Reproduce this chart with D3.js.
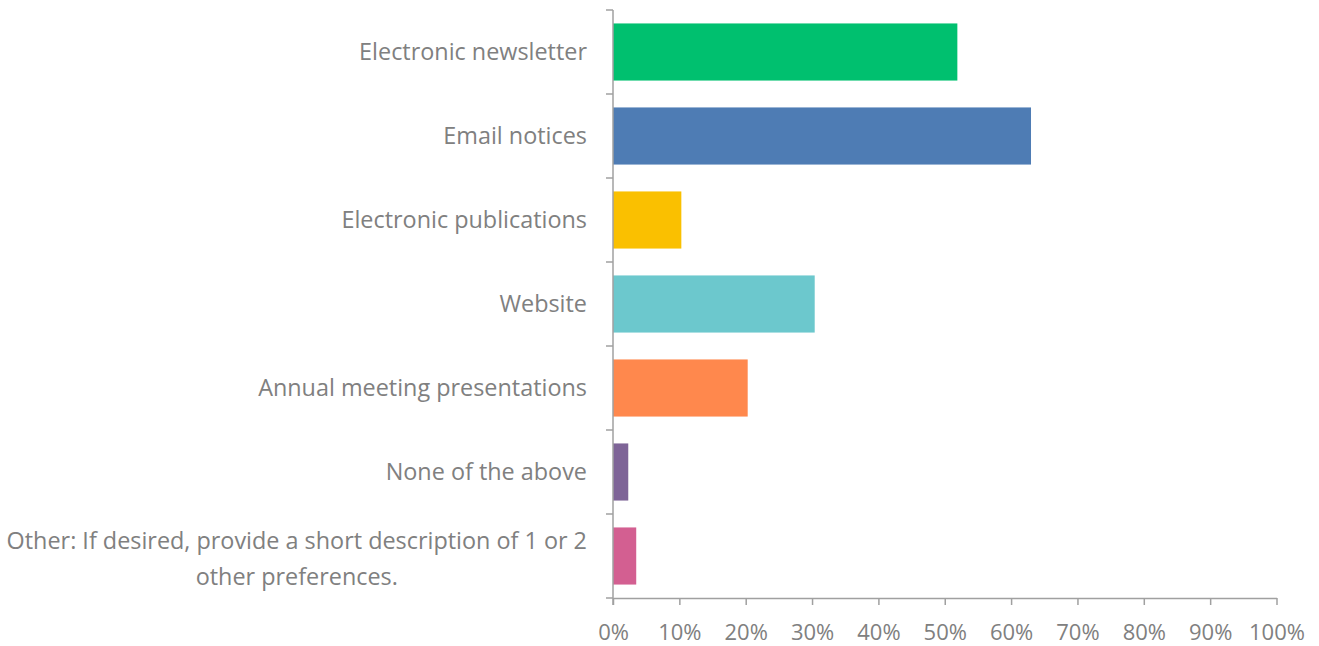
<!DOCTYPE html>
<html>
<head>
<meta charset="utf-8">
<script src="https://cdn.jsdelivr.net/npm/d3@7"></script>
<style>
  body { margin: 0; background: #fff; }
  text { font-family: "Open Sans", sans-serif; fill: #808080; }
</style>
</head>
<body>
<script>
const categories = [
  "Electronic newsletter",
  "Email notices",
  "Electronic publications",
  "Website",
  "Annual meeting presentations",
  "None of the above",
  "Other: If desired, provide a short description of 1 or 2|other preferences."
];
const values = [0.519, 0.630, 0.103, 0.304, 0.203, 0.023, 0.035];
const colors = ["#00c06f", "#4e7cb4", "#fac000", "#6cc8cd", "#ff884d", "#7e6497", "#d35f91"];
const xTicks = [0, 0.1, 0.2, 0.3, 0.4, 0.5, 0.6, 0.7, 0.8, 0.9, 1.0];

const width = 1319, height = 646;
const plotLeft = 613, plotRight = 1276.5, plotTop = 10, plotBottom = 598;

const svg = d3.select("body").append("svg")
  .attr("width", width)
  .attr("height", height);

const xScale = d3.scaleLinear().domain([0, 1]).range([plotLeft, plotRight]);
const yScale = d3.scaleBand().domain(categories).range([plotTop, plotBottom]).paddingInner(0.32).paddingOuter(0.16);

// bars
svg.selectAll("rect.bar")
  .data(categories)
  .enter()
  .append("rect")
  .attr("class", "bar")
  .attr("x", xScale(0))
  .attr("y", d => yScale(d))
  .attr("width", (d, i) => xScale(values[i]) - xScale(0))
  .attr("height", yScale.bandwidth())
  .attr("fill", (d, i) => colors[i]);

// x axis
const xAxis = d3.axisBottom(xScale)
  .tickValues(xTicks)
  .tickFormat(d3.format(".0%"))
  .tickSizeInner(7)
  .tickSizeOuter(0)
  .tickPadding(19);

const gx = svg.append("g")
  .attr("transform", `translate(0, ${plotBottom})`)
  .call(xAxis);
gx.selectAll("text").style("font-size", "22px").attr("fill", "#808080");

// y axis: ticks at category boundaries
const step = yScale.step();
const boundaries = d3.range(categories.length + 1).map(i => plotTop + i * step);

const gy = svg.append("g");
gy.append("line")
  .attr("x1", plotLeft).attr("x2", plotLeft)
  .attr("y1", plotTop).attr("y2", plotBottom + 7);
gy.selectAll("line.tick")
  .data(boundaries)
  .enter()
  .append("line")
  .attr("class", "tick")
  .attr("x1", plotLeft - 7).attr("x2", plotLeft)
  .attr("y1", d => d).attr("y2", d => d);
gy.selectAll("line").attr("stroke", "#a0a0a0").attr("stroke-width", 1.5);

gx.select(".domain").attr("stroke", "#a0a0a0").attr("stroke-width", 1.5);
gx.selectAll(".tick line").attr("stroke", "#a0a0a0").attr("stroke-width", 1.5);

// category labels
const labels = svg.append("g");
categories.forEach((c, i) => {
  const lines = c.split("|");
  const cy = yScale(c) + yScale.bandwidth() / 2;
  const t = labels.append("text")
    .attr("text-anchor", "end")
    .attr("x", plotLeft - 26)
    .attr("y", cy - (lines.length - 1) * 15)
    .attr("dy", "0.35em")
    .style("font-size", "23.4px");
  if (lines.length === 1) {
    t.text(c);
  } else {
    t.text(lines[0]);
    const w = t.node().getComputedTextLength();
    labels.append("text")
      .attr("text-anchor", "middle")
      .attr("x", plotLeft - 26 - w / 2)
      .attr("y", cy + 21)
      .attr("dy", "0.35em")
      .style("font-size", "23.4px")
      .text(lines[1]);
  }
});
</script>
</body>
</html>
